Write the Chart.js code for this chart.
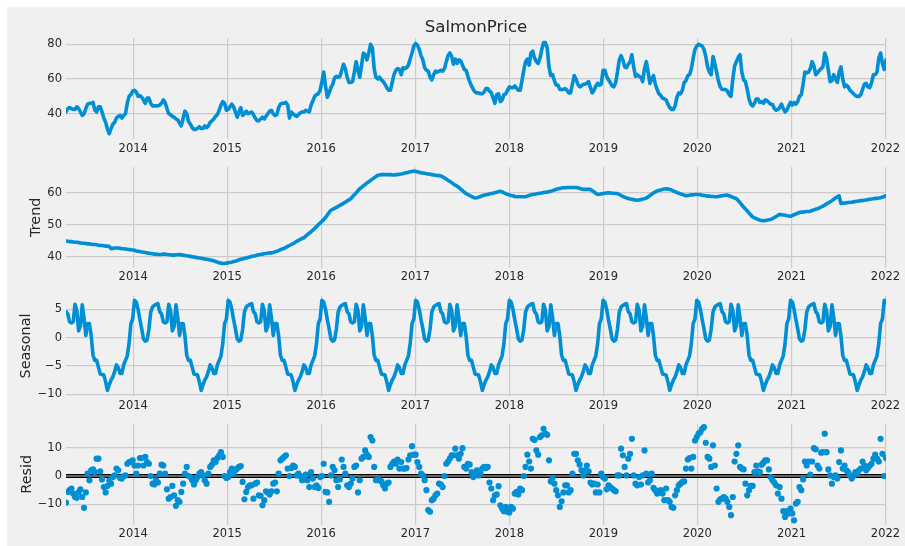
<!DOCTYPE html>
<html><head><meta charset="utf-8">
<script src="https://cdn.jsdelivr.net/npm/chart.js@4.4.1/dist/chart.umd.min.js"></script>
<style>
html,body{margin:0;padding:0;background:#ffffff;width:905px;height:546px;overflow:hidden;}
#fig{position:absolute;left:7px;top:7px;width:898px;height:539px;background:#f0f0f0;}
canvas{position:absolute;left:0;}
</style></head><body>
<div id="fig"></div>
<canvas id="c0"></canvas><canvas id="c1"></canvas><canvas id="c2"></canvas><canvas id="c3"></canvas>
<script>
// ---- data (weekly observations) ----
const weekStart = '2013-04-15';
const chartTitle = 'SalmonPrice';
const yearTicks = [2014, 2015, 2016, 2017, 2018, 2019, 2020, 2021, 2022];
const priceTicks = [40, 60, 80];
const trendTicks = [40, 50, 60];
const seasonalTicks = [-10, -5, 0, 5];
const residTicks = [-10, 0, 10];

const price = [
41,43,43.5,43,42.5,42.5,44,43,41,39,
40,43,45.5,46,46,46.5,42,41,44,44,
41,37.5,35,31,28.5,31.5,34,35,37.5,38.5,
39,37.5,39,40,46,50,51,53,53.5,52.5,
50,50.5,49.5,48,46,49,49,46,44.5,44.5,
44.5,44.5,45,46,48,46.5,43,40,39.5,38.5,
38,37,36.5,34.5,33,37.5,41.5,40,35.5,34,
32,31,31,31.5,32.5,31.5,31.5,33,32,33,
35,36,37,38.5,39.5,42,45,47,46,42,
42.5,44,45.5,44,41,38,41,43.5,39,40,
41.5,40,40.5,41,39.5,37.5,36,36,37,38,
37,38.5,40,41.5,42,40,39,39.5,43.5,45.5,
46,46,46.5,45,37.5,41,40,39,38.5,39.5,
40.5,41,41,42,41.5,41,45,47.5,50,51,
51.5,53.5,58.5,64,56,49.5,52,55,57,60.5,
61.5,61,61.5,65,68.5,66,61,58,58,58.5,
64,70,65,61,68,75,74,71,75,80,
78,66,61,60,61,59.5,58.5,57,55,53.5,
53.5,58,62.5,65,66,65.5,62.5,66.5,66,66.5,
68,71.5,75,79,80.5,79.5,77,73.5,71,66.5,
65,64.5,61,59.5,62.5,64.5,64,64.5,65,64.5,
66,70,73.5,75,73,68.5,71.5,69,71,70.5,
68,65.5,65,61.5,58.5,56,54,52.5,52,52,
51.5,51.5,52.5,54.5,54.5,53,52,49,46,51,
51.5,47,48,51,51.5,53.5,55.5,55,55,56,
54.8,53.5,53.5,59,65,70,71.5,68,75,76,
72,70,69,72,77,81,81,78,67,62,
62.5,59,56.5,56.5,54,54,54,54.5,53.5,52,
52,57,62,60,57,55.5,56,57,57,57.5,
58.5,55,52,53.5,56,57.5,56.5,57,65,65,
61.5,59.5,58,56,55.5,58,64,71,73.5,71,
67,66.5,68.5,70,74,67,61.5,62.5,61.5,61,
58.5,66,70,64,57.5,60,62,57,54,51.5,
50.5,49,48.5,48,45.5,43.5,42.5,42.5,44.5,49.5,
52,51.5,53.5,58,59,62,62.5,66,72,77,
79,80,79.5,79,77,73,67,64,62.5,73,
69,64,59,55.5,54,54,54,53,51,50,
60,67.5,70,72.5,74,64,59.5,58.5,54,48.5,
45.5,44.5,46,48.5,48.5,46.5,47,46,48,47.5,
46.5,45.5,45.5,43,42,42.5,43.5,45.5,43,41,
42,44.5,46.5,45,46.5,45.5,47,50,51,57,
64,63.5,64,66,70,67.5,62.5,63.5,65,66,
67,75,72,65,58.5,59,62.5,60,58,64,
67,60,55.5,56.5,55.5,53.5,52.5,51.5,50.5,50,
50,51,54,57,57.5,55.5,55,58,62.5,62.5,
64,72,75,69,65.5,71
];

const trend = [
44.9,44.8,44.7,44.7,44.6,44.5,44.5,44.4,44.3,44.2,
44.2,44.1,44.0,44.0,43.9,43.8,43.8,43.7,43.6,43.5,
43.5,43.4,43.3,43.3,43.2,42.5,42.6,42.7,42.7,42.7,
42.6,42.5,42.5,42.4,42.3,42.2,42.2,42.1,42.0,41.8,
41.7,41.6,41.5,41.4,41.3,41.2,41.1,41.0,40.9,40.8,
40.8,40.7,40.7,40.7,40.8,40.8,40.7,40.6,40.6,40.5,
40.5,40.6,40.6,40.7,40.6,40.5,40.4,40.3,40.2,40.1,
40.0,39.9,39.8,39.7,39.6,39.5,39.4,39.3,39.2,39.1,
39.0,38.9,38.7,38.5,38.3,38.1,38.0,37.9,37.9,38.0,
38.1,38.2,38.3,38.5,38.6,38.8,39.0,39.2,39.3,39.5,
39.6,39.8,39.9,40.1,40.2,40.3,40.5,40.6,40.7,40.8,
40.9,41.0,41.1,41.2,41.2,41.3,41.5,41.7,41.9,42.2,
42.4,42.6,42.9,43.2,43.5,43.8,44.1,44.4,44.8,45.1,
45.4,45.7,45.9,46.4,46.9,47.4,47.8,48.3,48.8,49.4,
50.0,50.5,51.0,51.6,52.3,53.0,53.8,54.5,54.8,55.1,
55.4,55.7,56.0,56.3,56.7,57.0,57.4,57.7,58.1,58.7,
59.3,59.9,60.6,61.2,61.6,62.1,62.5,63.0,63.4,63.8,
64.2,64.6,65.0,65.4,65.5,65.6,65.6,65.6,65.6,65.6,
65.6,65.5,65.5,65.6,65.6,65.7,65.8,65.9,66.1,66.2,
66.3,66.5,66.6,66.7,66.6,66.5,66.3,66.2,66.1,66.0,
65.9,65.8,65.7,65.6,65.5,65.4,65.3,65.3,65.2,64.9,
64.6,64.2,63.8,63.5,63.1,62.7,62.3,62.0,61.6,61.1,
60.6,60.1,59.7,59.4,59.1,58.8,58.5,58.3,58.4,58.6,
58.8,59.0,59.2,59.3,59.4,59.6,59.7,59.8,60.0,60.1,
60.3,60.4,60.2,59.9,59.7,59.4,59.3,59.1,59.0,58.8,
58.7,58.7,58.7,58.7,58.7,58.7,58.9,59.1,59.3,59.4,
59.5,59.6,59.7,59.8,59.9,60.0,60.1,60.2,60.3,60.4,
60.6,60.8,61.0,61.2,61.3,61.4,61.5,61.5,61.6,61.6,
61.6,61.6,61.6,61.6,61.5,61.3,61.1,61.0,61.0,61.0,
61.0,61.0,60.6,60.2,59.8,59.4,59.5,59.6,59.7,59.8,
59.9,59.9,59.9,59.8,59.8,59.7,59.7,59.4,59.1,58.8,
58.6,58.3,58.2,58.0,57.9,57.8,57.7,57.6,57.7,57.8,
58.0,58.1,58.3,58.7,59.1,59.5,59.9,60.2,60.5,60.7,
60.8,61.0,61.1,61.2,61.1,61.0,60.8,60.5,60.3,60.0,
59.8,59.6,59.4,59.2,59.0,59.1,59.2,59.3,59.3,59.4,
59.4,59.4,59.3,59.2,59.1,59.0,58.9,58.9,58.8,58.8,
58.7,58.7,58.8,58.9,59.0,59.1,59.2,59.2,59.0,58.8,
58.5,58.3,58.1,57.5,56.9,56.2,55.5,54.9,54.3,53.6,
53.0,52.4,52.1,51.9,51.6,51.4,51.3,51.2,51.3,51.4,
51.5,51.6,51.9,52.2,52.5,52.9,53.2,53.1,53.0,52.9,
52.8,52.7,52.6,52.8,53.1,53.3,53.6,53.8,53.9,53.9,
54.0,54.1,54.1,54.2,54.4,54.6,54.8,55.0,55.2,55.5,
55.8,56.1,56.5,56.8,57.1,57.5,57.9,58.3,58.7,59.0,
56.6,56.7,56.7,56.8,56.9,56.9,57.0,57.1,57.2,57.3,
57.4,57.5,57.5,57.6,57.7,57.8,57.9,58.0,58.1,58.2,
58.2,58.3,58.4,58.6,58.8,59.0
];

const seasonal = [
4.6,4.2,2.8,2.6,2.8,5.9,4.8,1.2,2.0,5.8,3.5,0.4,2.5,2.5,0.3,-3.1,-4.0,-4.0,-5.2,-6.4,-6.5,-6.6,-7.8,-9.3,-8.3,-7.5,-6.9,-6.0,-4.8,-5.3,-6.3,-6.3,-4.8,-4.0,-3.2,-1.0,2.5,3.3,6.6,6.3,5.0,3.2,1.6,-0.2,-0.6,-0.4,1.5,4.5,5.4,5.7,5.9,6.0,
4.6,4.2,2.8,2.6,2.8,5.9,4.8,1.2,2.0,5.8,3.5,0.4,2.5,2.5,0.3,-3.1,-4.0,-4.0,-5.2,-6.4,-6.5,-6.6,-7.8,-9.3,-8.3,-7.5,-6.9,-6.0,-4.8,-5.3,-6.3,-6.3,-4.8,-4.0,-3.2,-1.0,2.5,3.3,6.6,6.3,5.0,3.2,1.6,-0.2,-0.6,-0.4,1.5,4.5,5.4,5.7,5.9,6.0,
4.6,4.2,2.8,2.6,2.8,5.9,4.8,1.2,2.0,5.8,3.5,0.4,2.5,2.5,0.3,-3.1,-4.0,-4.0,-5.2,-6.4,-6.5,-6.6,-7.8,-9.3,-8.3,-7.5,-6.9,-6.0,-4.8,-5.3,-6.3,-6.3,-4.8,-4.0,-3.2,-1.0,2.5,3.3,6.6,6.3,5.0,3.2,1.6,-0.2,-0.6,-0.4,1.5,4.5,5.4,5.7,5.9,6.0,
4.6,4.2,2.8,2.6,2.8,5.9,4.8,1.2,2.0,5.8,3.5,0.4,2.5,2.5,0.3,-3.1,-4.0,-4.0,-5.2,-6.4,-6.5,-6.6,-7.8,-9.3,-8.3,-7.5,-6.9,-6.0,-4.8,-5.3,-6.3,-6.3,-4.8,-4.0,-3.2,-1.0,2.5,3.3,6.6,6.3,5.0,3.2,1.6,-0.2,-0.6,-0.4,1.5,4.5,5.4,5.7,5.9,6.0,
4.6,4.2,2.8,2.6,2.8,5.9,4.8,1.2,2.0,5.8,3.5,0.4,2.5,2.5,0.3,-3.1,-4.0,-4.0,-5.2,-6.4,-6.5,-6.6,-7.8,-9.3,-8.3,-7.5,-6.9,-6.0,-4.8,-5.3,-6.3,-6.3,-4.8,-4.0,-3.2,-1.0,2.5,3.3,6.6,6.3,5.0,3.2,1.6,-0.2,-0.6,-0.4,1.5,4.5,5.4,5.7,5.9,6.0,
4.6,4.2,2.8,2.6,2.8,5.9,4.8,1.2,2.0,5.8,3.5,0.4,2.5,2.5,0.3,-3.1,-4.0,-4.0,-5.2,-6.4,-6.5,-6.6,-7.8,-9.3,-8.3,-7.5,-6.9,-6.0,-4.8,-5.3,-6.3,-6.3,-4.8,-4.0,-3.2,-1.0,2.5,3.3,6.6,6.3,5.0,3.2,1.6,-0.2,-0.6,-0.4,1.5,4.5,5.4,5.7,5.9,6.0,
4.6,4.2,2.8,2.6,2.8,5.9,4.8,1.2,2.0,5.8,3.5,0.4,2.5,2.5,0.3,-3.1,-4.0,-4.0,-5.2,-6.4,-6.5,-6.6,-7.8,-9.3,-8.3,-7.5,-6.9,-6.0,-4.8,-5.3,-6.3,-6.3,-4.8,-4.0,-3.2,-1.0,2.5,3.3,6.6,6.3,5.0,3.2,1.6,-0.2,-0.6,-0.4,1.5,4.5,5.4,5.7,5.9,6.0,
4.6,4.2,2.8,2.6,2.8,5.9,4.8,1.2,2.0,5.8,3.5,0.4,2.5,2.5,0.3,-3.1,-4.0,-4.0,-5.2,-6.4,-6.5,-6.6,-7.8,-9.3,-8.3,-7.5,-6.9,-6.0,-4.8,-5.3,-6.3,-6.3,-4.8,-4.0,-3.2,-1.0,2.5,3.3,6.6,6.3,5.0,3.2,1.6,-0.2,-0.6,-0.4,1.5,4.5,5.4,5.7,5.9,6.0,
4.6,4.2,2.8,2.6,2.8,5.9,4.8,1.2,2.0,5.8,3.5,0.4,2.5,2.5,0.3,-3.1,-4.0,-4.0,-5.2,-6.4,-6.5,-6.6,-7.8,-9.3,-8.3,-7.5,-6.9,-6.0,-4.8,-5.3,-6.3,-6.3,-4.8,-4.0,-3.2,-1.0,2.5,3.3,6.6,6.3
];

const resid = [
-9.4,-5.6,-5,-4.4,-6.2,-7.4,-7.7,-5.8,-4.7,-7.4,
-11.2,-5.8,0.8,-1.5,2,2.3,1.4,6.1,6.1,1.6,
-1.2,-3.9,-5.8,-3.5,-1.5,-2.7,-0.4,0.2,2.6,2,
-0.7,-0.9,0,0.2,4.3,4.9,5.1,5.5,3.7,0.8,
3.7,6.3,6.3,3.7,6.7,4.9,4.3,0,-2.7,-3,
-1.5,-2.3,0.8,4,3.7,0.8,-4.7,-8,-7.4,-3.5,
-6.8,-10.5,-8.5,-9.1,-5.6,-2.7,0.8,3.2,0,-0.4,
-1.5,-3,-1.5,-0.4,0.8,1.4,0.2,-1.5,-2.7,0.8,
3.2,4,5.5,4.9,6.3,7.3,8.4,6.7,0,-0.7,
-0.4,1.4,2.6,0.8,2,2.6,3.2,3.5,-2.1,-8.2,
-5.6,-3.9,-3.3,-3.3,-8,-2.7,-2.3,-6.8,-7,-10.3,
-8.5,-5.4,-5.8,-6.5,-5.4,-2.7,-2.3,-5.4,0.8,5.5,
6.1,6.7,7.3,2.6,0,2.8,3.7,3.2,0.2,0.8,
0,-1.5,-1.2,0.5,-1.5,-3.9,1.4,-0.9,-3.9,-3.3,
-4.2,-0.4,0,4.3,-5.6,-5.8,-9.1,0.2,3.2,2,
-1.5,-3.9,-1.2,5.8,3.2,0.8,-3.3,-3.9,-2.7,-0.9,
3.2,3.7,-5.8,-1.5,6.1,6.7,9,7.5,6.7,13.7,
12.5,3.2,-1.5,-1.2,-1.5,-1.9,-3.3,-4.4,-2.7,-2.3,
3.2,4.3,5.1,4.3,5.8,2.6,4.9,2.6,2.6,2.8,
5.8,7.3,10.5,7.5,7.5,4.9,3.2,0.8,0.2,-1.5,
-5,-12,-12.6,-8.5,-8,-6.8,-6.2,-2.7,-3,-3.9,
0,4.3,5.1,6.1,7.3,7.3,9.6,7.3,6.1,7.8,
9.8,3.2,2.6,4.3,4,1.4,-0.4,0.8,2,0.2,
0.8,2.6,3.2,2.8,3.2,-2.3,-4.4,-8.5,-6.8,-6.5,
-3.6,-10.3,-11.5,-12.4,-10.9,-12.6,-12.9,-10.9,-11.5,-6.2,
-5.6,-6.5,-4.4,-5,0,3.2,7.5,5.1,2.6,13.1,
12.7,9,7.5,13.7,14.3,16.6,14.9,14.5,5.5,-1.9,
-0.7,-2.7,-5,-6.8,-10.9,-8.9,-5.8,-3.3,-3.3,-5.8,
-5,0.8,7.8,7.8,5.5,4,2,0.2,2,3.7,
1.6,-2.3,-3,-2.7,-5.8,-3,-5.8,0.8,-0.4,-0.9,
-4.7,-3.3,-3.9,-4.4,-5,-5.4,0.2,0.2,9.6,7.3,
3.2,0.2,6.1,7.8,13.1,0.2,-2.7,-3.3,-0.4,-3,
0.2,9,0.8,-2.3,-1.5,0.8,-4.2,-5,-6.2,-5.8,
-5,-6.2,-8.5,-4.4,-8.5,-9.1,-10.9,-11.2,-6.8,-5,
-3.3,-2.7,-2.1,-1.9,2.6,5.8,6.3,2.6,6.7,12.5,
13.7,14.9,15.4,16.6,17.2,11.7,6.7,6.1,3.2,10.8,
3.7,-4.4,-9.1,-8.2,-8,-7.4,-8,-9.1,-10.9,-13.8,
-7.4,5.1,7.8,10.8,3.2,2.6,2.3,-2.7,-6.8,-5,
-3.5,-3.5,1.4,3.7,1.6,1.4,4,4.7,5.5,5.5,
2.3,-0.4,-1.5,-2.3,-3.3,-6.2,-3.9,-8,-12.4,-14.4,
-12.4,-13.2,-11.5,-13.2,-15.6,-9.7,-9.1,-3.9,-5,-1.2,
5.1,3.7,5.1,0.5,5.1,9.8,9.4,3.7,2.6,8.2,
8.4,14.9,8.4,2.3,0.2,-2.7,-0.4,0.2,-0.9,4.9,
9,2.6,3.7,2,1.4,0.2,-0.9,0.2,1.4,0.8,
2,2.6,5.1,3.7,2,2.8,3.7,4.3,6.1,7.5,
6.1,5.1,13.1,7.8,0,6.3
];

// ---- rendering ----
const DAY = 864e5;
const t0 = Date.parse(weekStart + 'T00:00:00Z') / DAY;
const xs = price.map((_, i) => t0 + 7 * i);          // week dates, in days
const yearDays = yearTicks.map(y => Date.UTC(y, 0, 1) / DAY);

const BLUE = '#008fd5', GRID = '#cbcbcb', TXT = '#262626';
Chart.defaults.font.family = "'DejaVu Sans', sans-serif";
Chart.defaults.color = TXT;

const fmt = v => (v < 0 ? '\u2212' + Math.abs(v) : String(v));
const pts = arr => arr.map((v, i) => ({x: xs[i], y: v}));

const panels = [
  {id: 'c0', T: 38.05, B: 138.9, min: 25.5, max: 83.6, ticks: priceTicks, label: '', series: price, kind: 'line'},
  {id: 'c1', T: 166.55, B: 267.55, min: 36.62, max: 68.01, ticks: trendTicks, label: 'Trend', lp: 27.4, series: trend, kind: 'line'},
  {id: 'c2', T: 295.05, B: 396.05, min: -10.3, max: 7.38, ticks: seasonalTicks, label: 'Seasonal', lp: 17.9, series: seasonal, kind: 'line'},
  {id: 'c3', T: 423.55, B: 524.55, min: -17.1, max: 18.34, ticks: residTicks, label: 'Resid', lp: 18.4, series: resid, kind: 'dots'}
];

panels.forEach((p, k) => {
  const top = k === 0 ? 0 : Math.floor(p.T) - 10;
  const h = Math.ceil(p.B - top + 26);
  const xH = h - (p.B - top);
  const cv = document.getElementById(p.id);
  cv.width = 905; cv.height = h;
  cv.style.top = top + 'px'; cv.style.width = '905px'; cv.style.height = h + 'px';

  const datasets = [];
  if (p.kind === 'line') {
    datasets.push({data: pts(p.series), showLine: true, borderColor: BLUE, borderWidth: 3.6,
      pointRadius: 0, tension: 0, borderJoinStyle: 'round', borderCapStyle: 'round', order: 1});
  } else {
    datasets.push({data: pts(p.series), showLine: false, pointRadius: 3.1, pointBorderWidth: 0,
      backgroundColor: BLUE, borderColor: BLUE, order: 1});
    const ends = [{x: xs[0], y: 0}, {x: xs[xs.length - 1], y: 0}];
    datasets.push({data: ends, showLine: true, borderColor: '#000000', borderWidth: 4, pointRadius: 0, order: 3});
    datasets.push({data: ends, showLine: true, borderColor: GRID, borderWidth: 1.2, pointRadius: 0, order: 2});
  }

  const titleFont = 16.6;
  new Chart(cv, {
    type: 'scatter',
    data: {datasets},
    options: {
      responsive: false, animation: false, events: [],
      layout: {padding: {top: k === 0 ? 0 : p.T - top, left: 0, right: 19, bottom: 0}},
      plugins: {
        legend: {display: false}, tooltip: {enabled: false},
        title: k === 0 ? {display: true, text: chartTitle, color: TXT, fullSize: false,
          font: {size: titleFont, weight: 'normal'},
          padding: {top: 17.6, bottom: p.T - 17.6 - titleFont * 1.2}} : {display: false}
      },
      scales: {
        x: {
          type: 'linear', min: xs[0], max: xs[xs.length - 1],
          afterBuildTicks: s => { s.ticks = yearDays.map(v => ({value: v})); },
          afterFit: s => { s.height = xH; },
          ticks: {autoSkip: false, maxRotation: 0, padding: 3, color: TXT, font: {size: 11.5},
            callback: v => String(new Date(v * DAY).getUTCFullYear())},
          grid: {color: GRID, lineWidth: 1.2, drawTicks: false},
          border: {display: false}
        },
        y: {
          type: 'linear', min: p.min, max: p.max,
          afterBuildTicks: s => { s.ticks = p.ticks.map(v => ({value: v})); },
          afterFit: s => { s.width = 66; },
          ticks: {padding: 4, color: TXT, font: {size: 11.5}, callback: v => fmt(v)},
          grid: {color: GRID, lineWidth: 1.2, drawTicks: false},
          border: {display: false},
          title: {display: !!p.label, text: p.label, color: TXT, font: {size: 14.4},
            padding: {top: p.lp || 0, bottom: 0}}
        }
      }
    }
  });
});
</script>
</body></html>
